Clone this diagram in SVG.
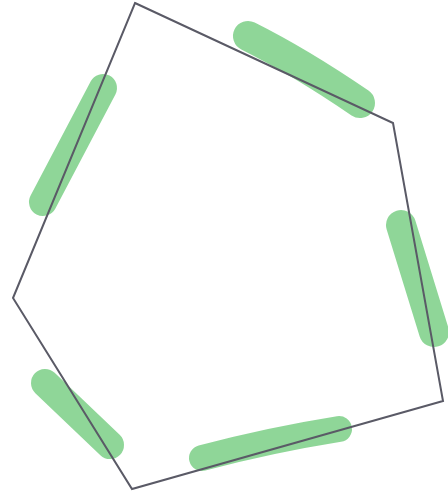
<svg xmlns="http://www.w3.org/2000/svg" width="448" height="494" viewBox="0 0 448 494">
<style>
.hl{fill:none;stroke:#7fd08a;stroke-opacity:0.88;stroke-linecap:round;stroke-linejoin:round}
.edge{fill:none;stroke:#5a5a66;stroke-width:2;stroke-linejoin:miter}
</style>
<rect width="448" height="494" fill="#ffffff"/>
<g id="highlights">
<path class="hl" d="M248,36 Q300,62 360,103" stroke-width="30"/>
<path class="hl" d="M103,88 L43,202" stroke-width="28"/>
<path class="hl" d="M401,225 L434,332" stroke-width="30"/>
<path class="hl" d="M45,383 L110,445" stroke-width="28"/>
<path class="hl" d="M202,458 Q270,440 339,429" stroke-width="26"/>
</g>
<g id="pentagon">
<polygon class="edge" points="135,3 393,123 443,401 132,489 13,298"/>
</g>
</svg>
